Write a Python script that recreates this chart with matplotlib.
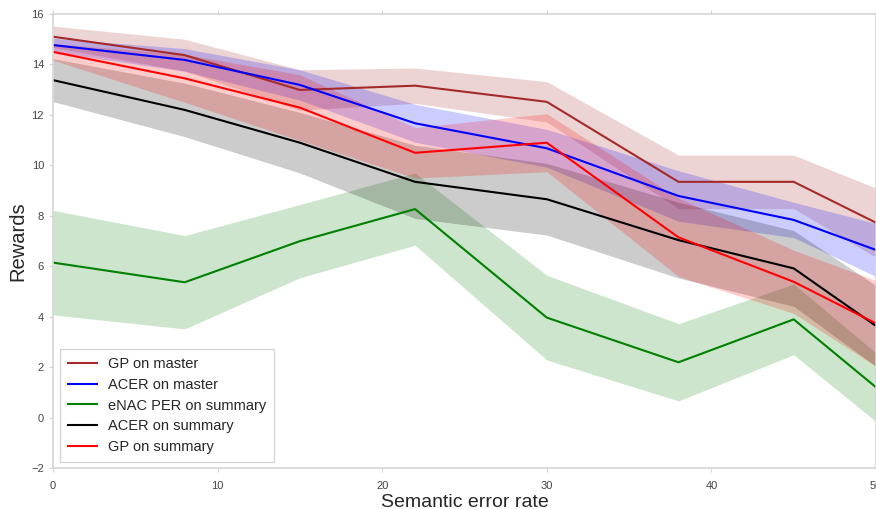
import numpy as np
import matplotlib
matplotlib.use('Agg')
import matplotlib.pyplot as plt

plt.rcParams['font.family'] = ['Liberation Sans', 'DejaVu Sans']

# semantic error rate levels
ser = [0, 8, 15, 22, 30, 38, 45, 50]

# mean rewards per system
gp_master = [15.1, 14.37, 12.99, 13.16, 12.52, 9.35, 9.35, 7.73]
acer_master = [14.77, 14.18, 13.19, 11.67, 10.68, 8.79, 7.84, 6.65]
enac_summary = [6.15, 5.37, 7.0, 8.27, 3.97, 2.2, 3.9, 1.21]
acer_summary = [13.38, 12.2, 10.9, 9.35, 8.66, 7.04, 5.92, 3.64]
gp_summary = [14.5, 13.45, 12.29, 10.5, 10.9, 7.15, 5.39, 3.74]

# spread (shaded band half width)
gp_master_sd = [0.42, 0.63, 0.8, 0.7, 0.8, 1.06, 1.06, 1.37]
acer_master_sd = [0.27, 0.45, 0.6, 0.75, 0.75, 1.0, 0.7, 1.05]
enac_summary_sd = [2.07, 1.85, 1.45, 1.43, 1.68, 1.53, 1.4, 1.36]
acer_summary_sd = [0.85, 1.06, 1.2, 1.45, 1.42, 1.5, 1.5, 1.6]
gp_summary_sd = [0.33, 0.95, 1.3, 1.0, 1.15, 1.55, 1.25, 1.7]

series = [
    ("GP on master", gp_master, gp_master_sd, "brown"),
    ("ACER on master", acer_master, acer_master_sd, "blue"),
    ("eNAC PER on summary", enac_summary, enac_summary_sd, "green"),
    ("ACER on summary", acer_summary, acer_summary_sd, "black"),
    ("GP on summary", gp_summary, gp_summary_sd, "red"),
]

fig = plt.figure(figsize=(8.76, 5.09), dpi=100)
ax = fig.add_axes([0.0605, 0.08, 0.9395, 0.8925])

x = np.array(ser)
for name, m, sd, col in series:
    m = np.array(m)
    sd = np.array(sd)
    ax.plot(x, m, color=col, lw=1.5, label=name)
    ax.fill_between(x, m - sd, m + sd, color=col, alpha=0.2, lw=0)

ax.set_xlim(0, 50)
ax.set_ylim(-2, 16)
ax.set_xticks([0, 10, 20, 30, 40, 50])
ax.set_yticks(range(-2, 17, 2))

for s in ax.spines.values():
    s.set_color('#d5d5d5')
    s.set_linewidth(1.2)
ax.tick_params(labelsize=8, colors='#d5d5d5', labelcolor='#444444',
               length=3, width=0.8, top=True, direction='out')
ax.tick_params(axis='x', pad=6)

ax.set_xlabel("Semantic error rate", fontsize=14, color='#262626', labelpad=2)
ax.set_ylabel("Rewards", fontsize=14.5, color='#262626', labelpad=3)

leg = ax.legend(loc='lower left', fontsize=10.5, frameon=True, fancybox=False,
                labelspacing=0.45, handletextpad=0.75, borderaxespad=0.45,
                borderpad=0.55)
leg.get_frame().set_edgecolor('#cccccc')
leg.get_frame().set_linewidth(1.0)
for t in leg.get_texts():
    t.set_color('#262626')

fig.savefig("out.png", dpi=100)
